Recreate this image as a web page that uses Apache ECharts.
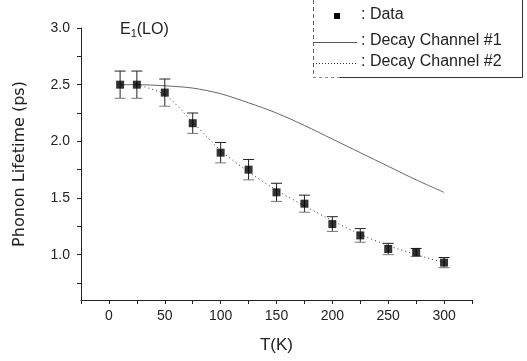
<!DOCTYPE html>
<html><head><meta charset="utf-8">
<script src="https://cdn.jsdelivr.net/npm/echarts@6/dist/echarts.min.js"></script>
<style>html,body{margin:0;padding:0;background:#fff}#c{width:527px;height:361px}</style>
</head><body><div id="c"></div>
<script>
const temps = [10,25,50,75,100,125,150,175,200,225,250,275,300];
const lifetime = [2.50,2.50,2.43,2.16,1.90,1.75,1.55,1.45,1.27,1.17,1.05,1.02,0.93];
const errors = [0.12,0.12,0.12,0.09,0.09,0.09,0.08,0.075,0.065,0.06,0.05,0.035,0.045];
const ch1Temps = [10,25,50,75,100,125,150,175,200,225,250,275,300];
const ch1Values = [2.50,2.50,2.49,2.47,2.42,2.34,2.25,2.14,2.02,1.90,1.78,1.66,1.55];
const ch2Temps = [25,50,75,100,125,150,175,200,225,250,275,300];
const ch2Values = [2.50,2.41,2.17,1.92,1.73,1.57,1.43,1.30,1.18,1.08,1.00,0.93];
const xLabels = [0,50,100,150,200,250,300];
const xTicks = [-25,0,25,50,75,100,125,150,175,200,225,250,275,300,325];
const yLabels = [1.0,1.5,2.0,2.5,3.0];
const yTicks = [0.75,1.0,1.25,1.5,1.75,2.0,2.25,2.5,2.75,3.0];

const font = 'Liberation Sans, Arial, sans-serif';
const chart = echarts.init(document.getElementById('c'), null, {renderer:'canvas'});
const zip = (a,b)=>a.map((v,i)=>[v,b[i]]);
const errData = temps.map((t,i)=>[t, lifetime[i]-errors[i], lifetime[i]+errors[i]]);

chart.setOption({
  animation:false,
  backgroundColor:'#fff',
  grid:{left:81, right:55, top:28, bottom:61},
  xAxis:{
    type:'value', min:-25, max:325,
    name:'T(K)', nameLocation:'middle', nameGap:37,
    nameTextStyle:{fontFamily:font, fontSize:17, color:'#222'},
    axisLine:{onZero:false, lineStyle:{color:'#222', width:1}},
    axisTick:{customValues:xTicks, length:4, lineStyle:{color:'#222'}},
    axisLabel:{customValues:xLabels, fontFamily:font, fontSize:14, color:'#222', margin:9},
    splitLine:{show:false}
  },
  yAxis:{
    type:'value', min:0.6, max:3.0,
    name:'Phonon Lifetime (ps)', nameLocation:'middle', nameGap:53,
    nameTextStyle:{fontFamily:'DejaVu Sans, sans-serif', fontSize:16, color:'#222'},
    axisLine:{show:true, onZero:false, lineStyle:{color:'#222', width:1}},
    axisTick:{customValues:yTicks, length:4, lineStyle:{color:'#222'}},
    axisLabel:{customValues:yLabels, fontFamily:font, fontSize:14, color:'#222', margin:11,
      formatter:v=>Number(v).toFixed(1)},
    splitLine:{show:false}
  },
  series:[
    {name:'Decay Channel #1', type:'line', data:zip(ch1Temps,ch1Values), smooth:0.3,
     symbol:'none', lineStyle:{color:'#666', width:1}, z:2},
    {name:'Decay Channel #2', type:'line', data:zip(ch2Temps,ch2Values), smooth:0.3,
     symbol:'none', lineStyle:{color:'#333', width:1, type:[1,3]}, z:2},
    {name:'errors', type:'custom', data:errData, z:3,
     renderItem:function(params, api){
       const x = api.value(0);
       const lo = api.coord([x, api.value(1)]);
       const hi = api.coord([x, api.value(2)]);
       const hw = 5.5;
       const st = {stroke:'#222', lineWidth:1};
       return {type:'group', children:[
         {type:'line', shape:{x1:lo[0], y1:lo[1], x2:hi[0], y2:hi[1]}, style:st},
         {type:'line', shape:{x1:hi[0]-hw, y1:hi[1], x2:hi[0]+hw, y2:hi[1]}, style:st},
         {type:'line', shape:{x1:lo[0]-hw, y1:lo[1], x2:lo[0]+hw, y2:lo[1]}, style:{stroke:'#777', lineWidth:1}}
       ]};
     }},
    {name:'Data', type:'scatter', data:zip(temps,lifetime), symbol:'rect', symbolSize:8,
     itemStyle:{color:'#000'}, z:4}
  ],
  graphic:[
    {type:'text', left:120, top:22, style:{text:'E{s|1}(LO)', fontFamily:font, fontSize:16, fill:'#222',
      rich:{s:{fontSize:11, fontFamily:font, fill:'#222', verticalAlign:'bottom', padding:[8,0,0,0]}}}},
    // legend box
    {type:'line', shape:{x1:313.5, y1:0, x2:313.5, y2:77}, style:{stroke:'#666', lineWidth:1, lineDash:[4,3]}},
    {type:'line', shape:{x1:522.5, y1:0, x2:522.5, y2:77.5}, style:{stroke:'#333', lineWidth:1}},
    {type:'line', shape:{x1:313, y1:77.5, x2:340, y2:77.5}, style:{stroke:'#888', lineWidth:1, lineDash:[3,3]}},
    {type:'line', shape:{x1:340, y1:77.5, x2:522.5, y2:77.5}, style:{stroke:'#333', lineWidth:1}},
    {type:'rect', shape:{x:334, y:13, width:6, height:6}, style:{fill:'#000'}},
    {type:'text', left:361, top:7, style:{text:': Data', fontFamily:font, fontSize:16, fill:'#222'}},
    {type:'line', shape:{x1:313, y1:42.5, x2:357, y2:42.5}, style:{stroke:'#555', lineWidth:1}},
    {type:'text', left:361, top:33, style:{text:': Decay Channel #1', fontFamily:font, fontSize:16, fill:'#222'}},
    {type:'line', shape:{x1:313, y1:63.5, x2:357, y2:63.5}, style:{stroke:'#333', lineWidth:1, lineDash:[1,2]}},
    {type:'text', left:361, top:54, style:{text:': Decay Channel #2', fontFamily:font, fontSize:16, fill:'#222'}}
  ]
});
</script></body></html>
